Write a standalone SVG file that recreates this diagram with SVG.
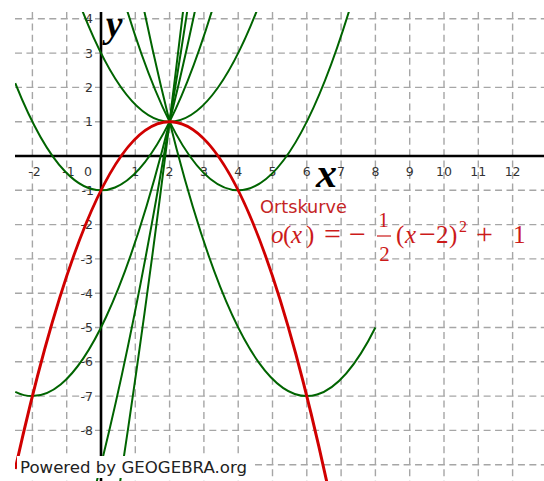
<svg xmlns="http://www.w3.org/2000/svg" width="544" height="481" viewBox="0 0 544 481">
<defs>
<clipPath id="plot"><rect x="15" y="12" width="529" height="469"/></clipPath>
<style>
.grid line{stroke:#a6a6a6;stroke-width:1.4;stroke-dasharray:7 4.43;fill:none}
.axis{stroke:#000;stroke-width:2.6}
.fam path{fill:none;stroke:#006400;stroke-width:2}
.ort{fill:none;stroke:#d00000;stroke-width:3}
.tick{font-family:"DejaVu Sans",Verdana,sans-serif;font-size:12.5px;fill:#333}
.tx{text-anchor:middle}
.ty{text-anchor:end}
.lab{font-family:"Liberation Serif","Times New Roman",serif;font-weight:bold;font-style:italic;fill:#000}
.f{font-family:"Liberation Serif","Times New Roman",serif;font-size:25px;fill:#cc1a1a}
.i{font-style:italic}
.op{font-size:30px}
</style>
</defs>
<rect width="544" height="481" fill="#fff"/>
<g id="plotarea" clip-path="url(#plot)">
<g id="grid" class="grid">
<line x1="32.4" y1="12" x2="32.4" y2="481"/>
<line x1="66.7" y1="12" x2="66.7" y2="481"/>
<line x1="135.3" y1="12" x2="135.3" y2="481"/>
<line x1="169.6" y1="12" x2="169.6" y2="481"/>
<line x1="203.9" y1="12" x2="203.9" y2="481"/>
<line x1="238.2" y1="12" x2="238.2" y2="481"/>
<line x1="272.5" y1="12" x2="272.5" y2="481"/>
<line x1="306.8" y1="12" x2="306.8" y2="481"/>
<line x1="341.1" y1="12" x2="341.1" y2="481"/>
<line x1="375.4" y1="12" x2="375.4" y2="481"/>
<line x1="409.7" y1="12" x2="409.7" y2="481"/>
<line x1="444" y1="12" x2="444" y2="481"/>
<line x1="478.3" y1="12" x2="478.3" y2="481"/>
<line x1="512.6" y1="12" x2="512.6" y2="481"/>
<line x1="15" y1="18.8" x2="544" y2="18.8"/>
<line x1="15" y1="53.1" x2="544" y2="53.1"/>
<line x1="15" y1="87.4" x2="544" y2="87.4"/>
<line x1="15" y1="121.7" x2="544" y2="121.7"/>
<line x1="15" y1="190.3" x2="544" y2="190.3"/>
<line x1="15" y1="224.6" x2="544" y2="224.6"/>
<line x1="15" y1="258.9" x2="544" y2="258.9"/>
<line x1="15" y1="293.2" x2="544" y2="293.2"/>
<line x1="15" y1="327.5" x2="544" y2="327.5"/>
<line x1="15" y1="361.8" x2="544" y2="361.8"/>
<line x1="15" y1="396.1" x2="544" y2="396.1"/>
<line x1="15" y1="430.4" x2="544" y2="430.4"/>
<line x1="15" y1="464.7" x2="544" y2="464.7"/>
</g>
<g id="axes">
<line class="axis" x1="15" y1="156" x2="544" y2="156"/>
<line class="axis" x1="101" y1="12" x2="101" y2="481"/>
</g>
<g id="ticklabels" class="tick">
<text class="tx" x="34.5" y="176">-2</text>
<text class="tx" x="68.5" y="176">-1</text>
<text class="tx" x="88" y="176">0</text>
<text class="tx" x="135.3" y="176">1</text>
<text class="tx" x="169.6" y="176">2</text>
<text class="tx" x="203.9" y="176">3</text>
<text class="tx" x="238.2" y="176">4</text>
<text class="tx" x="272.5" y="176">5</text>
<text class="tx" x="306.8" y="176">6</text>
<text class="tx" x="341.1" y="176">7</text>
<text class="tx" x="375.4" y="176">8</text>
<text class="tx" x="409.7" y="176">9</text>
<text class="tx" x="444" y="176">10</text>
<text class="tx" x="478.3" y="176">11</text>
<text class="tx" x="512.6" y="176">12</text>
<text class="ty" x="93" y="23.4">4</text>
<text class="ty" x="93" y="57.7">3</text>
<text class="ty" x="93" y="92">2</text>
<text class="ty" x="93" y="126.3">1</text>
<text class="ty" x="94" y="194.9">-1</text>
<text class="ty" x="93" y="229.2">-2</text>
<text class="ty" x="93" y="263.5">-3</text>
<text class="ty" x="93" y="297.8">-4</text>
<text class="ty" x="93" y="332.1">-5</text>
<text class="ty" x="93" y="366.4">-6</text>
<text class="ty" x="93" y="400.7">-7</text>
<text class="ty" x="93" y="435">-8</text>
</g>
<g id="family" class="fam">
<path d="M15.25,1009.21 Q99.73,713.53 184.21,1.65"/>
<path d="M15.25,700.51 Q101.98,570.42 188.71,1.65"/>
<path d="M15.25,391.81 Q106.08,437.23 196.9,1.65"/>
<path d="M15.25,83.11 Q115.01,332.52 214.77,1.65"/>
<path d="M78.85,1.65 Q169.6,241.75 260.35,1.65"/>
<path d="M124.43,1.65 Q238.2,378.95 351.97,1.65"/>
<path d="M142.3,1.65 Q258.85,560.64 375.4,327.5"/>
</g>
<g id="ortskurve">
<path class="ort" d="M15.25,468.99 Q171.38,-233.61 327.52,485.28"/>
</g>
</g>
<g id="axislabels" class="lab">
<text x="106" y="37" font-size="37">y</text>
<text x="316" y="187" font-size="42">x</text>
</g>
<g id="label">
<text x="260" y="213" font-family="DejaVu Sans, Verdana, sans-serif" font-size="17.6" fill="#c42525" textLength="87" lengthAdjust="spacingAndGlyphs">Ortskurve</text>
<g class="f">
<text x="271" y="243" class="i">o</text>
<text x="283" y="243">(</text>
<text x="291" y="243" class="i">x</text>
<text x="306" y="243">)</text>
<text x="324" y="244" class="op">=</text>
<text x="349" y="244" class="op">−</text>
<text x="383.5" y="227" text-anchor="middle" font-size="21">1</text>
<line x1="377" y1="236" x2="391" y2="236" stroke="#cc1a1a" stroke-width="1.2"/>
<text x="384.5" y="261" text-anchor="middle" font-size="21">2</text>
<text x="396" y="243">(</text>
<text x="405" y="243" class="i">x</text>
<text x="419" y="244" class="op">−</text>
<text x="436" y="243">2</text>
<text x="449" y="243">)</text>
<text x="459" y="232" font-size="16">2</text>
<text x="476" y="244" class="op">+</text>
<text x="513" y="243">1</text>
</g>
</g>
<g id="credit">
<rect x="17" y="456" width="234" height="22" fill="#fff"/>
<text x="20" y="473" font-family="DejaVu Sans, Verdana, sans-serif" font-size="16" fill="#222" textLength="227" lengthAdjust="spacingAndGlyphs">Powered by GEOGEBRA.org</text>
</g>
</svg>
